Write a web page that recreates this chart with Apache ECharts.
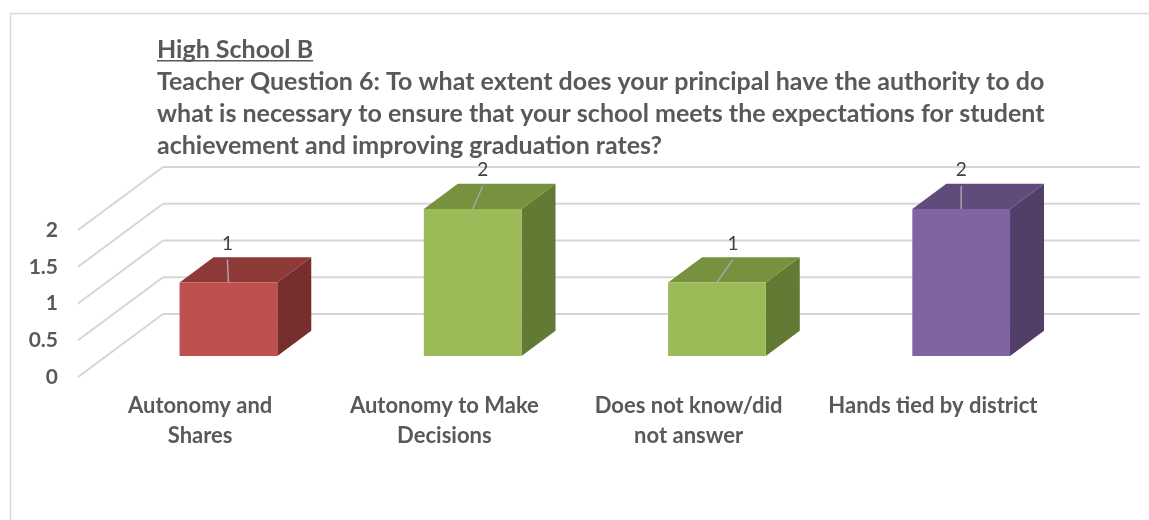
<!DOCTYPE html>
<html>
<head>
<meta charset="utf-8">
<script src="https://cdn.jsdelivr.net/npm/echarts@6/dist/echarts.min.js"></script>
<style>
  html, body { margin: 0; padding: 0; background: #fff; }
  #chart { width: 1149px; height: 520px; }
</style>
</head>
<body>
<div id="chart"></div>
<script>
// Survey responses for Teacher Question 6
const categories = [
  'Autonomy and\nShares',
  'Autonomy to Make\nDecisions',
  'Does not know/did\nnot answer',
  'Hands tied by district'
];
const responses = [1, 2, 1, 2];
const yTicks = [0, 0.5, 1, 1.5, 2];

const headline = 'High School B';
const question = 'Teacher Question 6: To what extent does your principal have the authority to do\n' +
  'what is necessary to ensure that your school meets the expectations for student\n' +
  'achievement and improving graduation rates?';

// Face colours for each box: front, top, side
const faceColors = [
  ['#C0504D', '#8E3A38', '#772E2C'],
  ['#9BBB59', '#77923F', '#637A34'],
  ['#9BBB59', '#77923F', '#637A34'],
  ['#8064A2', '#604B7A', '#513F68']
];
// Horizontal nudge of each value label relative to its box
const labelNudge = [-1, 10, 16, 0];

// Oblique projection of the floor depth (px)
const DEPTH = [85, -63];
const FRONT_OFFSET = 0.333;
const BOX_DEPTH = 0.4;
const BOX_WIDTH = 0.4;

const FONT = 'Lato, "Open Sans", sans-serif';
const TEXT_GREY = '#595959';
const GRID_GREY = '#D6D6D6';
const TITLE_SIZE = 25;

function textWidth(str, font) {
  const c = document.createElement('canvas').getContext('2d');
  c.font = font;
  return c.measureText(str).width;
}

const chart = echarts.init(document.getElementById('chart'), null, { renderer: 'canvas' });

function renderGridLine(params, api) {
  const cs = params.coordSys;
  const p = api.coord([0, api.value(1)]);
  const y = p[1];
  const style = { stroke: GRID_GREY, lineWidth: 2, fill: null };
  return {
    type: 'group',
    children: [
      { type: 'line', shape: { x1: cs.x, y1: y, x2: cs.x + DEPTH[0], y2: y + DEPTH[1] }, style: style },
      { type: 'line', shape: { x1: cs.x + DEPTH[0], y1: y + DEPTH[1], x2: cs.x + cs.width + DEPTH[0], y2: y + DEPTH[1] }, style: style }
    ]
  };
}

function renderBox(params, api) {
  const i = api.value(0);
  const v = api.value(1);
  const base = api.coord([i, 0]);
  const top = api.coord([i, v]);
  const band = api.size([1, 0])[0];
  const w = band * BOX_WIDTH;
  const ox = DEPTH[0] * FRONT_OFFSET, oy = DEPTH[1] * FRONT_OFFSET;
  const dx = DEPTH[0] * BOX_DEPTH, dy = DEPTH[1] * BOX_DEPTH;
  const x0 = base[0] - w / 2 + ox, x1 = x0 + w;
  const yb = base[1] + oy, yt = top[1] + oy;
  const cx = (x0 + x1) / 2;
  const cols = faceColors[params.dataIndex];
  const nudge = labelNudge[params.dataIndex];
  return {
    type: 'group',
    children: [
      { type: 'polygon', shape: { points: [[x1, yt], [x1 + dx, yt + dy], [x1 + dx, yb + dy], [x1, yb]] },
        style: { fill: cols[2] } },
      { type: 'polygon', shape: { points: [[x0, yt], [x1, yt], [x1 + dx, yt + dy], [x0 + dx, yt + dy]] },
        style: { fill: cols[1] } },
      { type: 'rect', shape: { x: x0, y: yt, width: w, height: yb - yt },
        style: { fill: cols[0] } },
      { type: 'line', shape: { x1: cx, y1: yt, x2: cx + nudge, y2: yt - 23 },
        style: { stroke: '#A6A6A6', lineWidth: 1.5 } },
      { type: 'text', x: cx + nudge, y: yt - 39,
        style: { text: String(v), fill: '#404040', font: '19px ' + FONT, align: 'center', verticalAlign: 'middle' } }
    ]
  };
}

const titleFont = 'bold ' + TITLE_SIZE + 'px ' + FONT;

chart.setOption({
  animation: false,
  backgroundColor: '#fff',
  title: {
    left: 157,
    top: 34,
    padding: 0,
    itemGap: 0,
    text: headline,
    subtext: question,
    textStyle: { fontFamily: FONT, fontSize: TITLE_SIZE, fontWeight: 'bold', color: TEXT_GREY, lineHeight: 32 },
    subtextStyle: { fontFamily: FONT, fontSize: TITLE_SIZE, fontWeight: 'bold', color: TEXT_GREY, lineHeight: 32 }
  },
  graphic: [
    { type: 'rect', left: 8, top: 11, shape: { x: 0, y: 0, width: 1200, height: 600 },
      style: { fill: null, stroke: '#D9D9D9', lineWidth: 1.5 }, silent: true, z: -10 },
    { type: 'rect', left: 157, top: 60, shape: { x: 0, y: 0, width: textWidth(headline, titleFont), height: 1.5 },
      style: { fill: TEXT_GREY }, silent: true }
  ],
  grid: { left: 78, right: 94, top: 230, bottom: 143 },
  xAxis: {
    type: 'category',
    data: categories,
    boundaryGap: true,
    axisLine: { show: false },
    axisTick: { show: false },
    axisLabel: { margin: 14, interval: 0, fontFamily: FONT, fontSize: 22, fontWeight: 'bold', color: TEXT_GREY, lineHeight: 30 }
  },
  yAxis: {
    type: 'value',
    min: 0,
    max: 2,
    interval: 0.5,
    axisLine: { show: false },
    axisTick: { show: false },
    splitLine: { show: false },
    axisLabel: { margin: 20, fontFamily: FONT, fontSize: 21, fontWeight: 'bold', color: TEXT_GREY }
  },
  series: [
    {
      type: 'custom',
      z: 1,
      renderItem: renderGridLine,
      data: yTicks.map(function (t) { return [0, t]; }),
      silent: true
    },
    {
      type: 'custom',
      z: 2,
      renderItem: renderBox,
      data: responses.map(function (v, i) { return [i, v]; })
    }
  ]
});
</script>
</body>
</html>
